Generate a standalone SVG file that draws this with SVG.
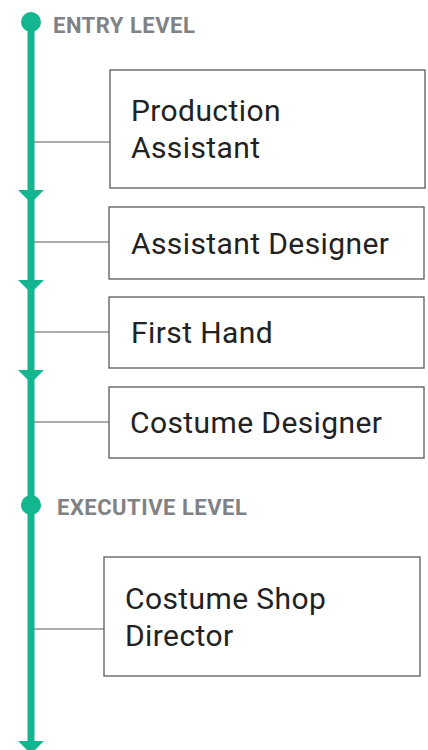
<svg xmlns="http://www.w3.org/2000/svg" width="428" height="750" viewBox="0 0 428 750">
<style>
.box{fill:#fff;stroke:#5a5a5a;stroke-width:1.3}
.t{font-family:Roboto,"Liberation Sans",sans-serif;font-size:30px;letter-spacing:0.4px;fill:#222}
.lvl{font-family:Roboto,"Liberation Sans",sans-serif;font-size:22px;letter-spacing:0.5px;font-weight:bold;fill:#808285}
.conn{stroke:#5a5a5a;stroke-width:1.2}
.g{fill:#14b68f}
</style>
<rect width="428" height="750" fill="#fff"/>
<g id="timeline">
<line x1="31" y1="22" x2="31" y2="745" stroke="#14b68f" stroke-width="7"/>
<circle class="g" cx="31" cy="22" r="10"/>
<circle class="g" cx="31" cy="505" r="10"/>
<polygon class="g" points="18,190 44,190 31,203"/>
<polygon class="g" points="18,280 44,280 31,293"/>
<polygon class="g" points="18,370 44,370 31,383"/>
<polygon class="g" points="18,741 44,741 31,754"/>
</g>
<g id="connectors">
<line class="conn" x1="34" y1="142" x2="110" y2="142"/>
<line class="conn" x1="34" y1="242" x2="109" y2="242"/>
<line class="conn" x1="34" y1="332" x2="109" y2="332"/>
<line class="conn" x1="34" y1="422" x2="109" y2="422"/>
<line class="conn" x1="34" y1="629" x2="104" y2="629"/>
</g>
<g id="entry-level"><text class="lvl" x="53" y="33">ENTRY LEVEL</text></g>
<g id="executive-level"><text class="lvl" x="57" y="515">EXECUTIVE LEVEL</text></g>
<g id="production-assistant">
<rect class="box" x="110" y="70" width="315" height="118"/>
<text class="t" x="131" y="121">Production</text>
<text class="t" x="131" y="158">Assistant</text>
</g>
<g id="assistant-designer">
<rect class="box" x="109" y="207" width="315" height="72"/>
<text class="t" x="131" y="254">Assistant Designer</text>
</g>
<g id="first-hand">
<rect class="box" x="109" y="297" width="315" height="71"/>
<text class="t" x="131" y="343">First Hand</text>
</g>
<g id="costume-designer">
<rect class="box" x="109" y="387" width="315" height="71"/>
<text class="t" x="130" y="433">Costume Designer</text>
</g>
<g id="costume-shop-director">
<rect class="box" x="104" y="557" width="316" height="119"/>
<text class="t" x="125" y="609">Costume Shop</text>
<text class="t" x="125" y="646">Director</text>
</g>
</svg>
